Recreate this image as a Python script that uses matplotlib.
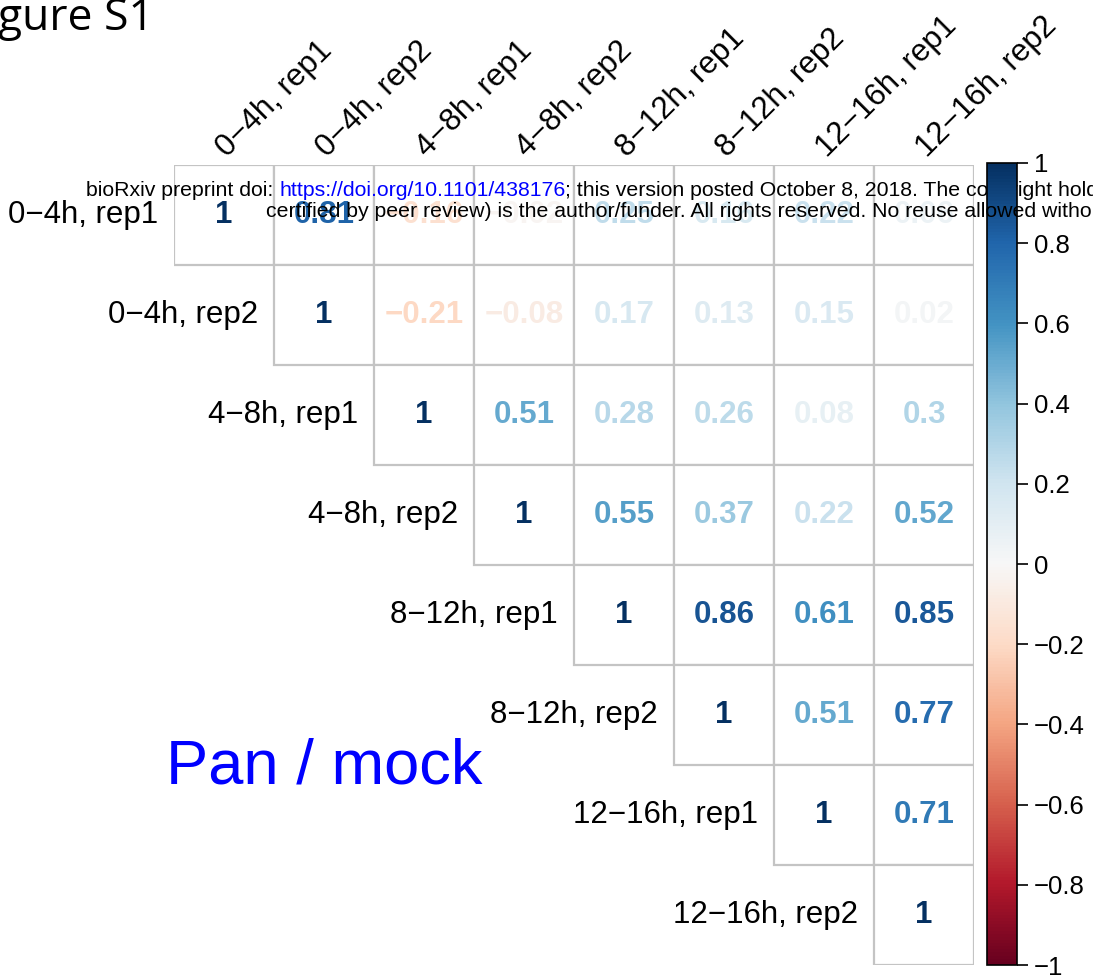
import numpy as np
import matplotlib as mlt
import matplotlib.pyplot as plt

# Daten
labels = ['0−4h, rep1', '0−4h, rep2', '4−8h, rep1', '4−8h, rep2',
          '8−12h, rep1', '8−12h, rep2', '12−16h, rep1', '12−16h, rep2']
# obere Dreiecksmatrix, Zeile fuer Zeile ab der Diagonale
row1 = [1, 0.81, -0.16, -0.02, 0.25, 0.16, 0.22, 0.06]
row2 = [1, -0.21, -0.08, 0.17, 0.13, 0.15, 0.02]
row3 = [1, 0.51, 0.28, 0.26, 0.08, 0.3]
row4 = [1, 0.55, 0.37, 0.22, 0.52]
row5 = [1, 0.86, 0.61, 0.85]
row6 = [1, 0.51, 0.77]
row7 = [1, 0.71]
row8 = [1]
rows = [row1, row2, row3, row4, row5, row6, row7, row8]
cbar_ticks = [1, 0.8, 0.6, 0.4, 0.2, 0, -0.2, -0.4, -0.6, -0.8, -1]

plt.rcParams['font.family'] = ['Liberation Sans', 'DejaVu Sans']
cmap = plt.get_cmap('RdBu')
norm = mlt.colors.Normalize(vmin=-1, vmax=1)
n = len(labels)

def fmt(v):
    if v == int(v):
        s = str(int(v))
    else:
        s = f'{v:.2f}'.rstrip('0')
    return s.replace('-', '−')

# Grafikbereich
fig = plt.figure(figsize=(10.93, 9.80), dpi=100)
W, H = 1093, 980
ax = fig.add_axes([174 / W, 15 / H, 800 / W, 800 / H])
ax.set_xlim(0, n)
ax.set_ylim(n, 0)
ax.axis('off')

for i, row in enumerate(rows):
    for k, v in enumerate(row):
        j = i + k
        ax.add_patch(mlt.patches.Rectangle((j, i), 1, 1, facecolor='white',
                                           edgecolor='#c4c4c4', lw=1.6))
        ax.text(j + 0.5, i + 0.5, fmt(v), ha='center', va='center', fontsize=22.5,
                fontweight='bold', color=cmap(norm(v)))
    ax.text(i - 0.16, i + 0.5, labels[i], ha='right', va='center', fontsize=22.5)

for j, lab in enumerate(labels):
    ax.text(j + 0.58, -0.02, lab, rotation=45, rotation_mode='anchor',
            ha='left', va='bottom', fontsize=22.5, clip_on=False)

# Farbskala
cax = fig.add_axes([987 / W, 15 / H, 30 / W, 802 / H])
cb = mlt.colorbar.ColorbarBase(cax, cmap=cmap, norm=norm)
cb.outline.set_linewidth(1.2)
cb.set_ticks(cbar_ticks)
cb.set_ticklabels([fmt(t) for t in cbar_ticks])
cax.tick_params(length=8, width=1.2, labelsize=18.5, pad=4)

fig.text(-2 / W, 1 - 30 / H, 'gure S1', ha='left', va='baseline',
         fontsize=32, family=['Open Sans', 'DejaVu Sans'])
fig.text(166 / W, 1 - 767 / H, 'Pan / mock', ha='left', va='center',
         fontsize=45.5, color='#0000ff')

# Kopfzeile des Preprints
t1 = fig.text(86 / W, 1 - 196 / H, 'bioRxiv preprint doi: ', ha='left',
              va='baseline', fontsize=15.3)
a2 = ax.annotate('https://doi.org/10.1101/438176', xy=(1, 0), xycoords=t1,
                 ha='left', va='bottom', fontsize=15.3, color='#0000ff',
                 annotation_clip=False)
ax.annotate('; this version posted October 8, 2018. The copyright holder',
            xy=(1, 0), xycoords=a2, ha='left', va='bottom', fontsize=15.3,
            annotation_clip=False)
fig.text(266 / W, 1 - 217 / H,
         'certified by peer review) is the author/funder. All rights reserved. No reuse allowed without',
         ha='left', va='baseline', fontsize=15.3)

fig.savefig('out.png', dpi=100)
